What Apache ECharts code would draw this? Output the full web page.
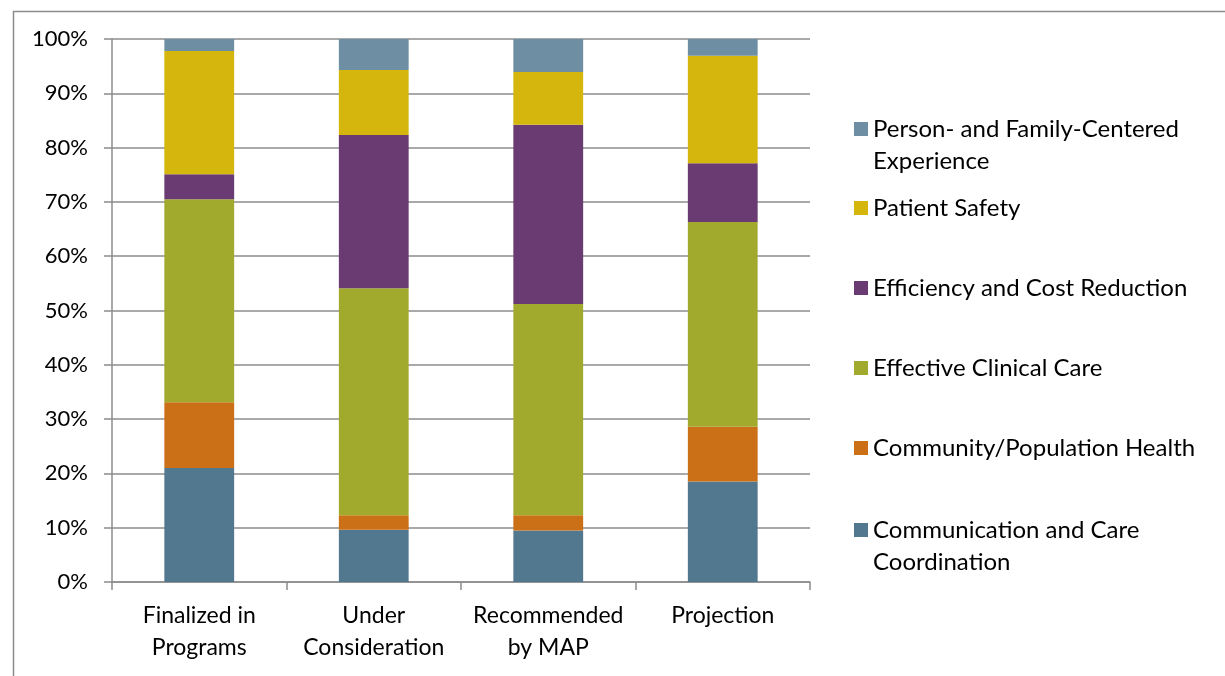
<!DOCTYPE html>
<html>
<head>
<meta charset="utf-8">
<script src="https://cdn.jsdelivr.net/npm/echarts@6/dist/echarts.min.js"></script>
<style>
html,body{margin:0;padding:0;background:#fff;}
#chart{width:1225px;height:676px;}
</style>
</head>
<body>
<div id="chart"></div>
<script>
var categories = ['Finalized in\nPrograms', 'Under\nConsideration', 'Recommended\nby MAP', 'Projection'];
var seriesNames = [
  'Communication and Care Coordination',
  'Community/Population Health',
  'Effective Clinical Care',
  'Efficiency and Cost Reduction',
  'Patient Safety',
  'Person- and Family-Centered Experience'
];
var commCare   = [21.0, 9.6, 9.5, 18.5];
var community  = [12.1, 2.7, 2.8, 10.1];
var effective  = [37.4, 41.8, 38.9, 37.7];
var efficiency = [4.6, 28.2, 33.0, 10.8];
var safety     = [22.7, 12.0, 9.7, 19.8];
var person     = [2.2, 5.7, 6.1, 3.1];
var yTicks = [0, 10, 20, 30, 40, 50, 60, 70, 80, 90, 100];

var colors = ['#52788F', '#CB7016', '#A2AA2E', '#6A3A72', '#D5B60C', '#6E8FA3'];
var values = [commCare, community, effective, efficiency, safety, person];
var FONT = 'Lato';

var series = seriesNames.map(function (n, i) {
  return {
    name: n, type: 'bar', stack: 'total', barWidth: '40%',
    itemStyle: { color: colors[i] },
    data: values[i]
  };
});

function legendItem(name, top) {
  var label = name;
  if (name === 'Person- and Family-Centered Experience') label = ' \nPerson- and Family-Centered\nExperience';
  if (name === 'Communication and Care Coordination') label = ' \nCommunication and Care\nCoordination';
  return {
    data: [name], left: 854, top: top, orient: 'vertical', padding: 0,
    itemWidth: 14, itemHeight: 14, itemGap: 8, icon: 'rect',
    formatter: function () { return label; },
    textStyle: { fontFamily: FONT, fontSize: 24, color: '#000', lineHeight: 32 }
  };
}

var chart = echarts.init(document.getElementById('chart'), null, { renderer: 'canvas' });
chart.setOption({
  animation: false,
  backgroundColor: '#fff',
  textStyle: { fontFamily: FONT },
  graphic: [{
    type: 'rect', left: 11, top: 9, silent: true,
    shape: { width: 1400, height: 900 },
    style: { fill: 'none', stroke: '#8c8c8c', lineWidth: 1.5 }
  }],
  grid: { left: 112, right: 415, top: 39, bottom: 94, containLabel: false },
  legend: [
    legendItem(seriesNames[5], 81),
    legendItem(seriesNames[4], 192),
    legendItem(seriesNames[3], 272),
    legendItem(seriesNames[2], 352),
    legendItem(seriesNames[1], 432),
    legendItem(seriesNames[0], 482)
  ],
  xAxis: {
    type: 'category', data: categories,
    axisLine: { lineStyle: { color: '#8c8c8c', width: 1.5 } },
    axisTick: { show: true, length: 8, lineStyle: { color: '#8c8c8c', width: 1.5 } },
    axisLabel: { color: '#000', fontFamily: FONT, fontSize: 23, lineHeight: 32, margin: 18, interval: 0 }
  },
  yAxis: {
    type: 'value', min: 0, max: 100, interval: 10,
    axisLine: { show: true, lineStyle: { color: '#8c8c8c', width: 1.5 } },
    axisTick: { show: true, length: 8, lineStyle: { color: '#8c8c8c', width: 1.5 } },
    splitLine: { show: true, lineStyle: { color: '#8c8c8c', width: 1.5 } },
    axisLabel: { color: '#000', fontFamily: FONT, fontSize: 22, margin: 24,
      formatter: function (v) { return yTicks.indexOf(v) >= 0 ? v + '%' : ''; } }
  },
  series: series
});
</script>
</body>
</html>
